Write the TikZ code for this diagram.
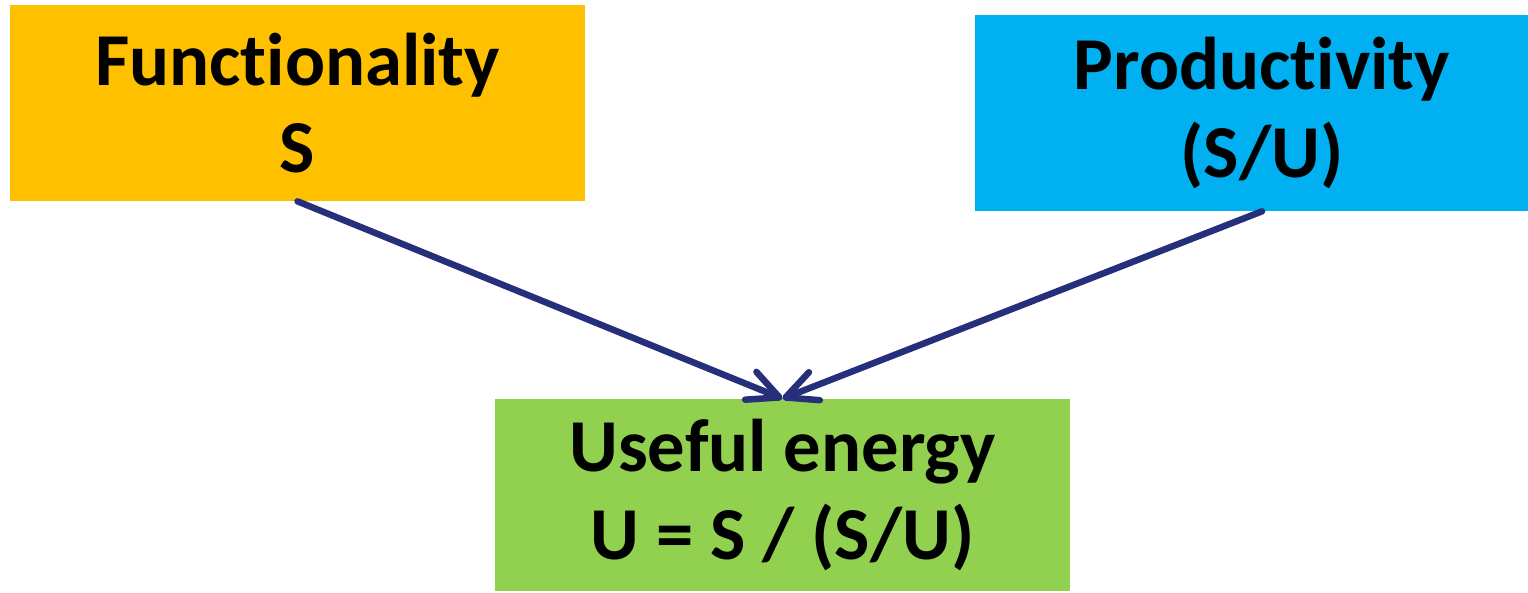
\documentclass[tikz,border=0pt]{standalone}
\usepackage{fontspec}
\setmainfont{Carlito}[Ligatures={NoCommon}]
\usetikzlibrary{arrows.meta}

\definecolor{funcorange}{HTML}{FFC000}
\definecolor{prodblue}{HTML}{00B0F0}
\definecolor{usefulgreen}{HTML}{92D050}
\definecolor{arrownavy}{RGB}{38,47,122}

\begin{document}
\begin{tikzpicture}[
        x=0.02cm, y=-0.02cm,
        block/.style={rectangle, inner sep=0pt, minimum width=11.5cm, minimum height=3.92cm, align=center, font=\fontsize{42.5}{50}\selectfont\bfseries},
        arrow/.style={-{Straight Barb[length=0.62cm, width=0.6cm, round]}, line width=0.13cm, line cap=round, draw=arrownavy}
    ]
        \useasboundingbox (0,0) rectangle (1528,592);

        \node[block, fill=funcorange] (func) at (297.5,103) {Functionality\\S};
        \node[block, fill=prodblue] (prod) at (1262,113) {Productivity\\(S/U)};
        \node[block, fill=usefulgreen, minimum height=3.84cm] (useful) at (782.5,495) {Useful energy\\U = S / (S/U)};

        \draw[arrow] (func.south) -- (useful.north);
        \draw[arrow] (prod.south) -- (useful.north);
    \end{tikzpicture}
\end{document}
